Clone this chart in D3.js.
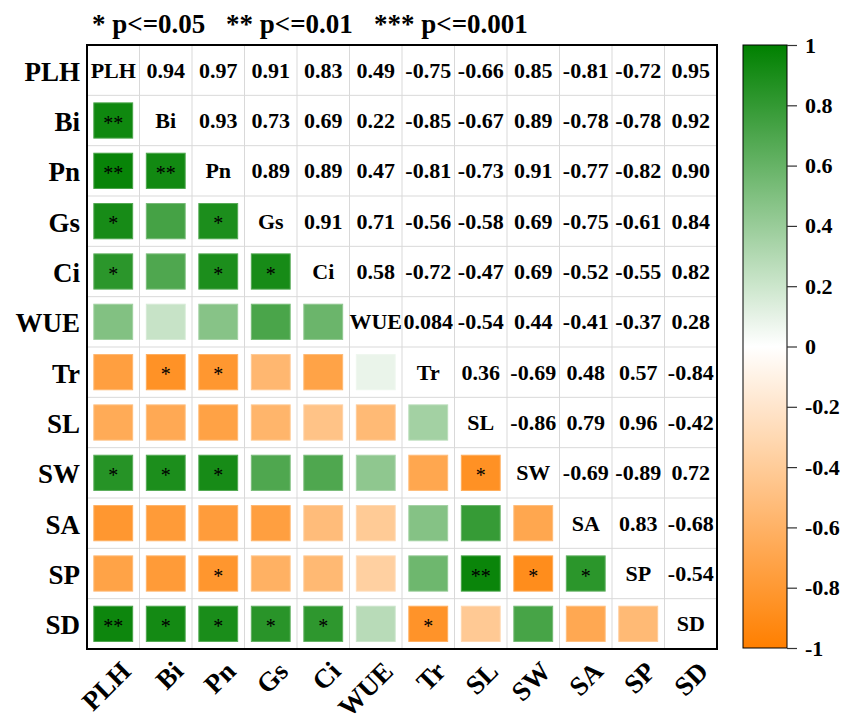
<!DOCTYPE html>
<html>
<head>
<meta charset="utf-8">
<script src="https://cdn.jsdelivr.net/npm/d3@7"></script>
<style>
  html, body { margin: 0; padding: 0; background: #ffffff; }
  svg { display: block; }
  text { font-family: "Liberation Serif", "Times New Roman", serif; }
</style>
</head>
<body>
<script>
// ---------- data ----------
const variables = ["PLH", "Bi", "Pn", "Gs", "Ci", "WUE", "Tr", "SL", "SW", "SA", "SP", "SD"];

// upper-triangle correlations, row by row (row i holds r(i, j) for j > i)
const corrPLH = [0.94, 0.97, 0.91, 0.83, 0.49, -0.75, -0.66, 0.85, -0.81, -0.72, 0.95];
const corrBi  = [0.93, 0.73, 0.69, 0.22, -0.85, -0.67, 0.89, -0.78, -0.78, 0.92];
const corrPn  = [0.89, 0.89, 0.47, -0.81, -0.73, 0.91, -0.77, -0.82, 0.90];
const corrGs  = [0.91, 0.71, -0.56, -0.58, 0.69, -0.75, -0.61, 0.84];
const corrCi  = [0.58, -0.72, -0.47, 0.69, -0.52, -0.55, 0.82];
const corrWUE = [0.084, -0.54, 0.44, -0.41, -0.37, 0.28];
const corrTr  = [0.36, -0.69, 0.48, 0.57, -0.84];
const corrSL  = [-0.86, 0.79, 0.96, -0.42];
const corrSW  = [-0.69, -0.89, 0.72];
const corrSA  = [0.83, -0.68];
const corrSP  = [-0.54];
const upperRows = [corrPLH, corrBi, corrPn, corrGs, corrCi, corrWUE, corrTr, corrSL, corrSW, corrSA, corrSP, []];

// significance stars in the lower triangle, row by row (row i holds cols 0..i-1)
const starsBi  = ["**"];
const starsPn  = ["**", "**"];
const starsGs  = ["*", "", "*"];
const starsCi  = ["*", "", "*", "*"];
const starsWUE = ["", "", "", "", ""];
const starsTr  = ["", "*", "*", "", "", ""];
const starsSL  = ["", "", "", "", "", "", ""];
const starsSW  = ["*", "*", "*", "", "", "", "", "*"];
const starsSA  = ["", "", "", "", "", "", "", "", ""];
const starsSP  = ["", "", "*", "", "", "", "", "**", "*", "*"];
const starsSD  = ["**", "*", "*", "*", "*", "", "*", "", "", "", ""];
const lowerStars = [[], starsBi, starsPn, starsGs, starsCi, starsWUE, starsTr, starsSL, starsSW, starsSA, starsSP, starsSD];

const legendItems = ["* p<=0.05", "** p<=0.01", "*** p<=0.001"];
const colorTicks = [1, 0.8, 0.6, 0.4, 0.2, 0, -0.2, -0.4, -0.6, -0.8, -1];

// ---------- build full matrix ----------
const n = variables.length;
function corr(i, j) {
  if (i === j) return 1;
  if (j > i) return upperRows[i][j - i - 1];
  return upperRows[j][i - j - 1];
}
const cells = [];
for (let i = 0; i < n; i++) for (let j = 0; j < n; j++) {
  cells.push({ i, j, row: variables[i], col: variables[j], r: corr(i, j),
               star: j < i ? lowerStars[i][j] : "" });
}

// ---------- chart ----------
const W = 845, H = 722;
const svg = d3.select("body").append("svg").attr("width", W).attr("height", H);
svg.append("rect").attr("width", W).attr("height", H).attr("fill", "#fff");

const x = d3.scaleBand().domain(variables).range([87, 717]).padding(0);
const y = d3.scaleBand().domain(variables).range([45, 649]).padding(0);
const color = d3.scaleLinear().domain([-1, 0, 1]).range(["#ff7f00", "#ffffff", "#008000"]);
const bw = x.bandwidth(), bh = y.bandwidth();
const sqW = bw * 0.74, sqH = bh * 0.70;

// squares (lower triangle)
const lower = cells.filter(d => d.j < d.i);
svg.append("g").selectAll("rect").data(lower).join("rect")
  .attr("x", d => x(d.col) + (bw - sqW) / 2)
  .attr("y", d => y(d.row) + (bh - sqH) / 2)
  .attr("width", sqW).attr("height", sqH)
  .attr("fill", d => color(d.r))
  .attr("stroke", d => d3.interpolateRgb(color(d.r), "#fff")(0.25))
  .attr("stroke-width", 1);

// stars
svg.append("g").selectAll("text").data(lower.filter(d => d.star)).join("text")
  .attr("x", d => x(d.col) + bw / 2)
  .attr("y", d => y(d.row) + bh / 2 + 9)
  .attr("text-anchor", "middle")
  .attr("font-size", 20)
  .attr("fill", "#000")
  .text(d => d.star);

// grid lines
const grid = svg.append("g").attr("stroke", "#d9d9d9").attr("stroke-width", 1);
variables.slice(1).forEach(v => {
  grid.append("line").attr("x1", x(v)).attr("x2", x(v)).attr("y1", 45).attr("y2", 649);
  grid.append("line").attr("y1", y(v)).attr("y2", y(v)).attr("x1", 87).attr("x2", 717);
});

// upper numbers and diagonal labels
const upper = cells.filter(d => d.j >= d.i);
svg.append("g").selectAll("text").data(upper).join("text")
  .attr("x", d => x(d.col) + bw / 2)
  .attr("y", d => y(d.row) + bh / 2 + 7.5)
  .attr("text-anchor", "middle")
  .attr("font-size", 22)
  .attr("font-weight", "bold")
  .attr("fill", "#000")
  .text(d => d.i === d.j ? d.row : d.r.toPrecision(2));

// border
svg.append("rect").attr("x", 87).attr("y", 45).attr("width", 630).attr("height", 604)
  .attr("fill", "none").attr("stroke", "#000").attr("stroke-width", 2);

// row labels
svg.append("g").selectAll("text").data(variables).join("text")
  .attr("x", 80)
  .attr("y", d => y(d) + bh / 2 + 10.5)
  .attr("text-anchor", "end")
  .attr("font-size", 27)
  .attr("font-weight", "bold")
  .text(d => d);

// column labels
svg.append("g").selectAll("text").data(variables).join("text")
  .attr("transform", d => `translate(${x(d) + bw / 2 + 19},673) rotate(-45)`)
  .attr("text-anchor", "end")
  .attr("font-size", 27)
  .attr("font-weight", "bold")
  .text(d => d);

// significance legend (title)
const legendX = [92, 226, 374];
svg.append("g").selectAll("text").data(legendItems).join("text")
  .attr("x", (d, k) => legendX[k])
  .attr("y", 33)
  .attr("font-size", 27)
  .attr("font-weight", "bold")
  .text(d => d);

// color bar
const cb = d3.scaleLinear().domain([1, -1]).range([45, 648]);
const defs = svg.append("defs");
const grad = defs.append("linearGradient").attr("id", "cbgrad")
  .attr("x1", 0).attr("y1", 0).attr("x2", 0).attr("y2", 1);
d3.range(0, 1.0001, 0.05).forEach(t => {
  grad.append("stop").attr("offset", t).attr("stop-color", color(1 - 2 * t));
});
svg.append("rect").attr("x", 743).attr("y", cb(1)).attr("width", 44).attr("height", cb(-1) - cb(1))
  .attr("fill", "url(#cbgrad)").attr("stroke", "#000").attr("stroke-width", 1);
const cbAxis = d3.axisRight(cb).tickValues(colorTicks).tickSize(10).tickPadding(8)
  .tickFormat(d => String(+d.toFixed(1)));
const cbg = svg.append("g").attr("transform", "translate(787,0)").call(cbAxis);
cbg.select(".domain").remove();
cbg.selectAll(".tick line").attr("stroke", "#333").attr("stroke-width", 1.2);
cbg.selectAll(".tick text")
  .attr("font-family", "'Liberation Serif', 'Times New Roman', serif")
  .attr("font-size", 22).attr("font-weight", "bold").attr("fill", "#000");
</script>
</body>
</html>
